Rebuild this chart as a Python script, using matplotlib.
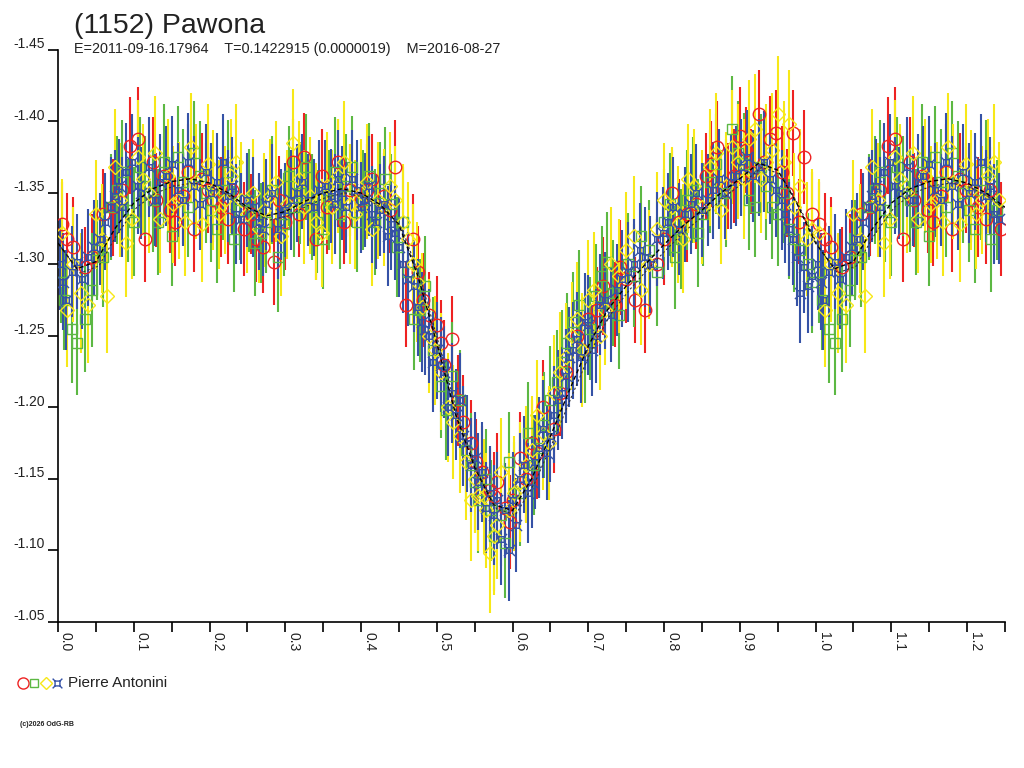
import numpy as np
import matplotlib
matplotlib.use("Agg")
import matplotlib.pyplot as plt
from matplotlib.path import Path
from matplotlib.transforms import offset_copy

plt.rcParams['font.family'] = ['Liberation Sans', 'DejaVu Sans']

TITLE = "(1152) Pawona"
SUBTITLE = "E=2011-09-16.17964    T=0.1422915 (0.0000019)    M=2016-08-27"
OBSERVER = "Pierre Antonini"
CREDIT = "(c)2026 OdG-RB"

# session data: (phase, magnitude, error)
red_rows = [
    (0.005, -1.328, 0.030), (0.020, -1.312, 0.035), (0.035, -1.298, 0.028), (0.060, -1.335, 0.032),
    (0.085, -1.352, 0.030), (0.095, -1.383, 0.034), (0.105, -1.388, 0.036), (0.115, -1.318, 0.030),
    (0.130, -1.345, 0.033), (0.140, -1.362, 0.028), (0.155, -1.330, 0.031), (0.165, -1.348, 0.034),
    (0.180, -1.325, 0.030), (0.190, -1.360, 0.032), (0.205, -1.345, 0.029), (0.215, -1.340, 0.035),
    (0.230, -1.352, 0.030), (0.245, -1.325, 0.033), (0.255, -1.335, 0.028), (0.270, -1.312, 0.032),
    (0.285, -1.302, 0.030), (0.300, -1.330, 0.034), (0.310, -1.372, 0.030), (0.325, -1.375, 0.031),
    (0.340, -1.318, 0.029), (0.355, -1.340, 0.033), (0.370, -1.372, 0.030), (0.385, -1.352, 0.032),
    (0.400, -1.345, 0.028), (0.415, -1.360, 0.031), (0.430, -1.348, 0.030), (0.445, -1.368, 0.033),
    (0.460, -1.272, 0.030), (0.475, -1.295, 0.032), (0.490, -1.265, 0.030), (0.500, -1.258, 0.034),
    (0.510, -1.230, 0.031), (0.520, -1.248, 0.030), (0.535, -1.190, 0.033), (0.545, -1.175, 0.030),
    (0.560, -1.155, 0.032), (0.570, -1.142, 0.030), (0.580, -1.148, 0.034), (0.590, -1.130, 0.031),
    (0.600, -1.135, 0.030), (0.610, -1.165, 0.032), (0.625, -1.175, 0.030), (0.640, -1.200, 0.033),
    (0.655, -1.185, 0.031), (0.670, -1.225, 0.030), (0.685, -1.250, 0.032), (0.700, -1.262, 0.030),
    (0.720, -1.285, 0.034), (0.735, -1.272, 0.030), (0.750, -1.290, 0.031), (0.775, -1.268, 0.030),
    (0.790, -1.300, 0.032), (0.810, -1.350, 0.030), (0.830, -1.335, 0.033), (0.855, -1.362, 0.030),
    (0.870, -1.382, 0.032), (0.885, -1.355, 0.030), (0.900, -1.390, 0.034), (0.915, -1.365, 0.030),
    (0.925, -1.405, 0.031), (0.940, -1.388, 0.030), (0.955, -1.365, 0.032), (0.970, -1.392, 0.030),
    (0.985, -1.375, 0.033), (0.995, -1.335, 0.030),
]
red_rows_2 = [
    (0.012, -1.318, 0.032), (0.045, -1.305, 0.030), (0.072, -1.340, 0.034), (0.125, -1.372, 0.031),
    (0.148, -1.338, 0.030), (0.172, -1.365, 0.033), (0.198, -1.352, 0.030), (0.225, -1.332, 0.032),
    (0.262, -1.318, 0.030), (0.292, -1.345, 0.031), (0.318, -1.335, 0.030), (0.348, -1.362, 0.033),
    (0.378, -1.330, 0.030), (0.408, -1.352, 0.032), (0.438, -1.338, 0.030), (0.468, -1.318, 0.031),
    (0.482, -1.275, 0.033), (0.505, -1.245, 0.030), (0.528, -1.205, 0.032), (0.552, -1.162, 0.030),
    (0.575, -1.138, 0.031), (0.596, -1.120, 0.033), (0.618, -1.150, 0.030), (0.632, -1.168, 0.032),
    (0.662, -1.210, 0.030), (0.692, -1.240, 0.031), (0.712, -1.268, 0.030), (0.742, -1.298, 0.033),
    (0.762, -1.275, 0.030), (0.800, -1.318, 0.032), (0.820, -1.330, 0.030), (0.842, -1.342, 0.031),
    (0.862, -1.370, 0.030), (0.892, -1.362, 0.033), (0.908, -1.380, 0.030), (0.932, -1.372, 0.032),
    (0.948, -1.392, 0.030), (0.962, -1.350, 0.031), (0.978, -1.330, 0.030),
]

green_rows = [
    (0.008, -1.275, 0.035), (0.018, -1.255, 0.038), (0.025, -1.245, 0.036), (0.045, -1.282, 0.040),
    (0.060, -1.305, 0.035), (0.070, -1.340, 0.037), (0.085, -1.365, 0.036), (0.100, -1.330, 0.038),
    (0.115, -1.355, 0.035), (0.125, -1.345, 0.036), (0.140, -1.372, 0.040), (0.150, -1.320, 0.035),
    (0.165, -1.358, 0.037), (0.180, -1.378, 0.036), (0.195, -1.350, 0.035), (0.210, -1.325, 0.038),
    (0.225, -1.365, 0.036), (0.240, -1.338, 0.035), (0.260, -1.315, 0.037), (0.275, -1.330, 0.036),
    (0.290, -1.305, 0.038), (0.305, -1.362, 0.035), (0.320, -1.350, 0.036), (0.335, -1.340, 0.037),
    (0.350, -1.318, 0.035), (0.365, -1.365, 0.038), (0.380, -1.355, 0.036), (0.395, -1.330, 0.035),
    (0.410, -1.362, 0.037), (0.425, -1.350, 0.036), (0.440, -1.342, 0.035), (0.455, -1.330, 0.038),
    (0.470, -1.262, 0.036), (0.485, -1.285, 0.035), (0.495, -1.240, 0.037), (0.505, -1.215, 0.036),
    (0.520, -1.222, 0.038), (0.530, -1.205, 0.035), (0.545, -1.160, 0.036), (0.555, -1.135, 0.037),
    (0.565, -1.150, 0.035), (0.575, -1.110, 0.038), (0.585, -1.125, 0.036), (0.595, -1.162, 0.035),
    (0.610, -1.140, 0.037), (0.620, -1.182, 0.036), (0.635, -1.172, 0.035), (0.650, -1.205, 0.038),
    (0.665, -1.232, 0.036), (0.680, -1.260, 0.035), (0.695, -1.240, 0.037), (0.710, -1.278, 0.036),
    (0.725, -1.302, 0.035), (0.740, -1.265, 0.038), (0.760, -1.292, 0.036), (0.780, -1.310, 0.035),
    (0.800, -1.330, 0.037), (0.815, -1.305, 0.036), (0.830, -1.345, 0.035), (0.845, -1.322, 0.038),
    (0.860, -1.358, 0.036), (0.875, -1.345, 0.035), (0.890, -1.395, 0.037), (0.905, -1.370, 0.036),
    (0.920, -1.340, 0.035), (0.935, -1.355, 0.038), (0.950, -1.335, 0.036), (0.965, -1.325, 0.035),
    (0.980, -1.310, 0.037), (0.990, -1.300, 0.036),
]
green_rows_2 = [
    (0.004, -1.295, 0.036), (0.035, -1.262, 0.037), (0.052, -1.310, 0.035), (0.078, -1.352, 0.038),
    (0.092, -1.338, 0.036), (0.108, -1.368, 0.035), (0.132, -1.330, 0.037), (0.158, -1.375, 0.036),
    (0.172, -1.340, 0.035), (0.188, -1.362, 0.038), (0.202, -1.338, 0.036), (0.218, -1.352, 0.035),
    (0.232, -1.318, 0.037), (0.252, -1.345, 0.036), (0.268, -1.322, 0.035), (0.282, -1.352, 0.038),
    (0.298, -1.328, 0.036), (0.312, -1.340, 0.035), (0.328, -1.368, 0.037), (0.342, -1.330, 0.036),
    (0.358, -1.345, 0.035), (0.372, -1.335, 0.038), (0.388, -1.368, 0.036), (0.402, -1.345, 0.035),
    (0.418, -1.330, 0.037), (0.432, -1.360, 0.036), (0.448, -1.312, 0.035), (0.462, -1.295, 0.038),
    (0.478, -1.268, 0.036), (0.512, -1.198, 0.035), (0.538, -1.170, 0.037), (0.550, -1.148, 0.036),
    (0.572, -1.128, 0.035), (0.590, -1.105, 0.038), (0.602, -1.140, 0.036), (0.628, -1.160, 0.035),
    (0.642, -1.188, 0.037), (0.658, -1.218, 0.036), (0.672, -1.245, 0.035), (0.688, -1.272, 0.038),
    (0.702, -1.255, 0.036), (0.718, -1.292, 0.035), (0.732, -1.280, 0.037), (0.752, -1.300, 0.036),
    (0.770, -1.320, 0.035), (0.790, -1.295, 0.038), (0.808, -1.342, 0.036), (0.822, -1.318, 0.035),
    (0.838, -1.352, 0.037), (0.852, -1.335, 0.036), (0.868, -1.370, 0.035), (0.882, -1.350, 0.038),
    (0.898, -1.378, 0.036), (0.912, -1.345, 0.035), (0.928, -1.368, 0.037), (0.942, -1.340, 0.036),
    (0.958, -1.350, 0.035), (0.972, -1.318, 0.037), (0.995, -1.288, 0.036),
]

yellow_rows = [
    (0.005, -1.322, 0.038), (0.012, -1.268, 0.040), (0.030, -1.280, 0.042), (0.050, -1.335, 0.038),
    (0.065, -1.278, 0.040), (0.075, -1.368, 0.041), (0.090, -1.315, 0.038), (0.105, -1.375, 0.040),
    (0.120, -1.350, 0.042), (0.135, -1.332, 0.038), (0.145, -1.362, 0.040), (0.160, -1.345, 0.041),
    (0.175, -1.382, 0.038), (0.190, -1.328, 0.040), (0.205, -1.352, 0.042), (0.220, -1.345, 0.038),
    (0.235, -1.372, 0.040), (0.250, -1.335, 0.041), (0.265, -1.325, 0.038), (0.280, -1.348, 0.040),
    (0.295, -1.320, 0.042), (0.310, -1.385, 0.038), (0.325, -1.340, 0.040), (0.340, -1.330, 0.041),
    (0.355, -1.355, 0.038), (0.370, -1.362, 0.040), (0.385, -1.342, 0.042), (0.400, -1.350, 0.038),
    (0.415, -1.325, 0.040), (0.430, -1.340, 0.041), (0.445, -1.345, 0.038), (0.455, -1.330, 0.040),
    (0.468, -1.300, 0.042), (0.480, -1.270, 0.038), (0.490, -1.250, 0.040), (0.505, -1.225, 0.041),
    (0.515, -1.200, 0.038), (0.530, -1.180, 0.040), (0.545, -1.135, 0.042), (0.555, -1.138, 0.038),
    (0.565, -1.128, 0.040), (0.575, -1.110, 0.041), (0.585, -1.155, 0.038), (0.595, -1.128, 0.040),
    (0.610, -1.148, 0.042), (0.625, -1.170, 0.038), (0.640, -1.182, 0.040), (0.655, -1.210, 0.041),
    (0.670, -1.235, 0.038), (0.685, -1.262, 0.040), (0.700, -1.275, 0.042), (0.715, -1.250, 0.038),
    (0.730, -1.300, 0.040), (0.750, -1.310, 0.041), (0.770, -1.282, 0.038), (0.790, -1.325, 0.040),
    (0.810, -1.340, 0.042), (0.825, -1.318, 0.038), (0.840, -1.355, 0.040), (0.860, -1.368, 0.041),
    (0.875, -1.338, 0.038), (0.890, -1.382, 0.040), (0.905, -1.360, 0.042), (0.920, -1.395, 0.038),
    (0.935, -1.372, 0.040), (0.950, -1.405, 0.041), (0.965, -1.398, 0.038), (0.980, -1.355, 0.040),
    (0.995, -1.325, 0.042),
]
yellow_rows_2 = [
    (0.020, -1.300, 0.040), (0.040, -1.272, 0.041), (0.058, -1.318, 0.038), (0.082, -1.345, 0.040),
    (0.098, -1.332, 0.042), (0.112, -1.360, 0.038), (0.128, -1.378, 0.040), (0.152, -1.342, 0.041),
    (0.168, -1.330, 0.038), (0.182, -1.358, 0.040), (0.198, -1.370, 0.042), (0.212, -1.335, 0.038),
    (0.228, -1.362, 0.040), (0.242, -1.345, 0.041), (0.258, -1.350, 0.038), (0.272, -1.338, 0.040),
    (0.288, -1.358, 0.042), (0.302, -1.342, 0.038), (0.318, -1.360, 0.040), (0.332, -1.348, 0.041),
    (0.348, -1.322, 0.038), (0.362, -1.340, 0.040), (0.378, -1.372, 0.042), (0.392, -1.335, 0.038),
    (0.408, -1.358, 0.040), (0.422, -1.345, 0.041), (0.438, -1.355, 0.038), (0.462, -1.318, 0.040),
    (0.474, -1.288, 0.042), (0.498, -1.240, 0.038), (0.522, -1.190, 0.040), (0.538, -1.162, 0.041),
    (0.550, -1.150, 0.038), (0.562, -1.138, 0.040), (0.570, -1.098, 0.042), (0.580, -1.118, 0.038),
    (0.602, -1.140, 0.040), (0.618, -1.160, 0.041), (0.632, -1.195, 0.038), (0.648, -1.175, 0.040),
    (0.662, -1.225, 0.042), (0.678, -1.250, 0.038), (0.692, -1.240, 0.040), (0.708, -1.282, 0.041),
    (0.722, -1.268, 0.038), (0.740, -1.292, 0.040), (0.760, -1.320, 0.042), (0.780, -1.300, 0.038),
    (0.800, -1.345, 0.040), (0.818, -1.328, 0.041), (0.832, -1.360, 0.038), (0.850, -1.340, 0.040),
    (0.868, -1.378, 0.042), (0.882, -1.355, 0.038), (0.898, -1.372, 0.040), (0.912, -1.388, 0.041),
    (0.928, -1.360, 0.038), (0.942, -1.380, 0.040), (0.958, -1.372, 0.042), (0.972, -1.340, 0.038),
    (0.988, -1.318, 0.040),
]

blue_rows = [
    (0.003, -1.300, 0.032), (0.010, -1.275, 0.035), (0.025, -1.302, 0.033), (0.040, -1.305, 0.034),
    (0.055, -1.318, 0.032), (0.070, -1.340, 0.035), (0.080, -1.355, 0.033), (0.090, -1.365, 0.034),
    (0.110, -1.350, 0.032), (0.120, -1.368, 0.035), (0.135, -1.358, 0.033), (0.150, -1.370, 0.034),
    (0.165, -1.345, 0.032), (0.180, -1.355, 0.035), (0.195, -1.365, 0.033), (0.210, -1.358, 0.034),
    (0.225, -1.348, 0.032), (0.235, -1.335, 0.035), (0.250, -1.345, 0.033), (0.265, -1.330, 0.034),
    (0.275, -1.342, 0.032), (0.290, -1.325, 0.035), (0.300, -1.338, 0.033), (0.315, -1.350, 0.034),
    (0.330, -1.345, 0.032), (0.345, -1.352, 0.035), (0.360, -1.348, 0.033), (0.370, -1.360, 0.034),
    (0.380, -1.340, 0.032), (0.395, -1.352, 0.035), (0.405, -1.345, 0.033), (0.415, -1.335, 0.034),
    (0.425, -1.338, 0.032), (0.435, -1.320, 0.035), (0.445, -1.322, 0.033), (0.455, -1.300, 0.034),
    (0.470, -1.285, 0.032), (0.480, -1.260, 0.035), (0.490, -1.250, 0.033), (0.500, -1.240, 0.034),
    (0.510, -1.225, 0.032), (0.520, -1.210, 0.035), (0.530, -1.205, 0.033), (0.540, -1.175, 0.034),
    (0.550, -1.165, 0.032), (0.560, -1.155, 0.035), (0.570, -1.140, 0.033), (0.580, -1.135, 0.034),
    (0.585, -1.108, 0.032), (0.595, -1.100, 0.035), (0.605, -1.118, 0.033), (0.615, -1.160, 0.034),
    (0.625, -1.148, 0.032), (0.635, -1.172, 0.035), (0.645, -1.168, 0.033), (0.655, -1.195, 0.034),
    (0.665, -1.210, 0.032), (0.675, -1.235, 0.035), (0.685, -1.248, 0.033), (0.695, -1.260, 0.034),
    (0.705, -1.240, 0.032), (0.715, -1.272, 0.035), (0.730, -1.265, 0.033), (0.745, -1.290, 0.034),
    (0.760, -1.300, 0.032), (0.775, -1.305, 0.035), (0.790, -1.318, 0.033), (0.805, -1.330, 0.034),
    (0.820, -1.325, 0.032), (0.835, -1.342, 0.035), (0.850, -1.338, 0.033), (0.865, -1.352, 0.034),
    (0.880, -1.350, 0.032), (0.895, -1.362, 0.035), (0.910, -1.375, 0.033), (0.925, -1.368, 0.034),
    (0.940, -1.360, 0.032), (0.955, -1.345, 0.035), (0.965, -1.325, 0.033), (0.975, -1.305, 0.034),
    (0.985, -1.298, 0.032), (0.995, -1.292, 0.035),
]
blue_rows_2 = [
    (0.007, -1.288, 0.034), (0.018, -1.295, 0.032), (0.032, -1.290, 0.035), (0.048, -1.312, 0.033),
    (0.062, -1.330, 0.034), (0.075, -1.348, 0.032), (0.085, -1.340, 0.035), (0.098, -1.372, 0.033),
    (0.105, -1.355, 0.034), (0.128, -1.345, 0.032), (0.142, -1.362, 0.035), (0.158, -1.352, 0.033),
    (0.172, -1.372, 0.034), (0.188, -1.342, 0.032), (0.202, -1.350, 0.035), (0.218, -1.372, 0.033),
    (0.230, -1.355, 0.034), (0.242, -1.332, 0.032), (0.258, -1.340, 0.035), (0.270, -1.325, 0.033),
    (0.282, -1.350, 0.034), (0.295, -1.335, 0.032), (0.308, -1.345, 0.035), (0.322, -1.358, 0.033),
    (0.338, -1.340, 0.034), (0.352, -1.355, 0.032), (0.365, -1.342, 0.035), (0.375, -1.350, 0.033),
    (0.388, -1.360, 0.034), (0.400, -1.340, 0.032), (0.410, -1.355, 0.035), (0.420, -1.330, 0.033),
    (0.430, -1.342, 0.034), (0.440, -1.328, 0.032), (0.450, -1.312, 0.035), (0.462, -1.290, 0.033),
    (0.475, -1.270, 0.034), (0.485, -1.255, 0.032), (0.495, -1.232, 0.035), (0.505, -1.230, 0.033),
    (0.515, -1.200, 0.034), (0.525, -1.195, 0.032), (0.535, -1.180, 0.035), (0.545, -1.160, 0.033),
    (0.555, -1.148, 0.034), (0.565, -1.130, 0.032), (0.575, -1.125, 0.035), (0.590, -1.128, 0.033),
    (0.600, -1.135, 0.034), (0.610, -1.150, 0.032), (0.620, -1.140, 0.035), (0.630, -1.162, 0.033),
    (0.640, -1.185, 0.034), (0.650, -1.180, 0.032), (0.660, -1.205, 0.035), (0.670, -1.222, 0.033),
    (0.680, -1.240, 0.034), (0.690, -1.235, 0.032), (0.700, -1.258, 0.035), (0.710, -1.250, 0.033),
    (0.722, -1.275, 0.034), (0.738, -1.282, 0.032), (0.752, -1.295, 0.035), (0.768, -1.310, 0.033),
    (0.782, -1.300, 0.034), (0.798, -1.322, 0.032), (0.812, -1.340, 0.035), (0.828, -1.335, 0.033),
    (0.842, -1.350, 0.034), (0.858, -1.345, 0.032), (0.872, -1.360, 0.035), (0.888, -1.358, 0.033),
    (0.902, -1.368, 0.034), (0.918, -1.362, 0.032), (0.932, -1.372, 0.035), (0.948, -1.352, 0.033),
    (0.960, -1.335, 0.034), (0.970, -1.318, 0.032), (0.980, -1.280, 0.035), (0.990, -1.285, 0.033),
]

# fitted light curve, phase 0..1 in 0.025 steps
fit_phase = np.linspace(0.0, 1.0, 41)
fit_mag = [-1.315, -1.297, -1.302, -1.325, -1.343, -1.353, -1.358, -1.360, -1.357, -1.350,
           -1.340, -1.334, -1.337, -1.344, -1.350, -1.353, -1.350, -1.342, -1.328, -1.292,
           -1.245, -1.195, -1.158, -1.132, -1.128, -1.150, -1.180, -1.212, -1.243, -1.268,
           -1.285, -1.300, -1.314, -1.327, -1.338, -1.350, -1.360, -1.371, -1.366, -1.343,
           -1.315]

y_ticks = [-1.45, -1.40, -1.35, -1.30, -1.25, -1.20, -1.15, -1.10, -1.05]
x_label_ticks = [0.0, 0.1, 0.2, 0.3, 0.4, 0.5, 0.6, 0.7, 0.8, 0.9, 1.0, 1.1, 1.2]

RED = '#ee2222'
GREEN = '#5cb843'
YELLOW = '#f7e818'
BLUE = '#3552a6'


def blue_marker():
    verts = [(-0.5, -0.5), (0.5, -0.5), (0.5, 0.5), (-0.5, 0.5), (-0.5, -0.5),
             (-0.5, -0.5), (-1, -1), (0.5, -0.5), (1, -1),
             (0.5, 0.5), (1, 1), (-0.5, 0.5), (-1, 1)]
    codes = [Path.MOVETO, Path.LINETO, Path.LINETO, Path.LINETO, Path.CLOSEPOLY,
             Path.MOVETO, Path.LINETO, Path.MOVETO, Path.LINETO,
             Path.MOVETO, Path.LINETO, Path.MOVETO, Path.LINETO]
    return Path(verts, codes)


def wrap(rows):
    # the chart repeats the start of the cycle beyond phase 1
    rows = list(rows) + [(p + 1.0, m, e) for p, m, e in rows if p < 0.25]
    ph, mag, err = zip(*rows)
    return np.array(ph), np.array(mag), np.array(err)


series = [
    (red_rows + red_rows_2, RED, 'o', 9),
    (green_rows + green_rows_2, GREEN, 's', 7),
    (yellow_rows + yellow_rows_2, YELLOW, 'D', 7),
    (blue_rows + blue_rows_2, BLUE, blue_marker(), 8),
]

fig = plt.figure(figsize=(10.24, 7.68), dpi=100)
ax = fig.add_axes([58 / 1024, 1 - 622 / 768, (1005 - 58) / 1024, 572 / 768])

for rows, color, marker, ms in series:
    ph, mag, err = wrap(rows)
    ax.errorbar(ph, mag, yerr=err, fmt='none', ecolor=color, elinewidth=1.5, capsize=0, zorder=2)
    ax.plot(ph, mag, linestyle='none', marker=marker, markersize=ms, markerfacecolor='none',
            markeredgecolor=color, markeredgewidth=1.0, zorder=3)

fp = np.concatenate([fit_phase, fit_phase[1:11] + 1.0])
fm = np.concatenate([fit_mag, fit_mag[1:11]])
ax.plot(fp, fm, color='black', linestyle=(0, (3, 2)), linewidth=1.0, zorder=4)
ax.plot(fp + 0.004, fm + 0.003, color='#333333', linestyle=(0, (2, 2)), linewidth=0.8, zorder=4)

ax.set_xlim(0, 1.248)
ax.set_ylim(-1.05, -1.45)
for s in ['top', 'right']:
    ax.spines[s].set_visible(False)
ax.spines['left'].set_linewidth(1.2)
ax.spines['bottom'].set_linewidth(1.2)

ax.set_xticks(np.arange(0, 1.26, 0.05))
ax.set_yticks(y_ticks)
ax.tick_params(axis='both', direction='out', length=7.5, width=1.2, color='black',
               labelbottom=False, labelleft=False)

# y labels sit on the tick line
ytr = offset_copy(ax.get_yaxis_transform(), fig=fig, x=-13, y=2, units='dots')
for v in y_ticks:
    ax.text(0, v, f"{v:.2f}", transform=ytr, ha='right', va='baseline', fontsize=10, color='#222222')

# x labels rotated, reading downward
xtr = offset_copy(ax.get_xaxis_transform(), fig=fig, x=1, y=-10, units='dots')
for v in x_label_ticks:
    ax.text(v, 0, f"{v:.1f}", transform=xtr, rotation=-90, ha='left', va='top', fontsize=10, color='#222222')

fig.text(74 / 1024, 1 - 33 / 768, TITLE, fontsize=20.5, color='#222222', ha='left', va='baseline')
fig.text(74 / 1024, 1 - 53 / 768, SUBTITLE, fontsize=10.4, color='#222222', ha='left', va='baseline')

# legend row under the plot
ly = 1 - 683 / 768
for x, color, marker, ms in [(23, RED, 'o', 8), (34, GREEN, 's', 6), (46, YELLOW, 'D', 6.5), (57, BLUE, blue_marker(), 7)]:
    fig.add_artist(plt.Line2D([x / 1024], [ly], transform=fig.transFigure, linestyle='none', marker=marker,
                              markersize=ms, markerfacecolor='none', markeredgecolor=color, markeredgewidth=1.0))
fig.text(68 / 1024, ly, OBSERVER, fontsize=11, color='#222222', ha='left', va='center')
fig.text(20 / 1024, 1 - 725 / 768, CREDIT, fontsize=5, fontweight='bold', color='#222222', ha='left', va='center')

fig.savefig('out.png', dpi=100)
